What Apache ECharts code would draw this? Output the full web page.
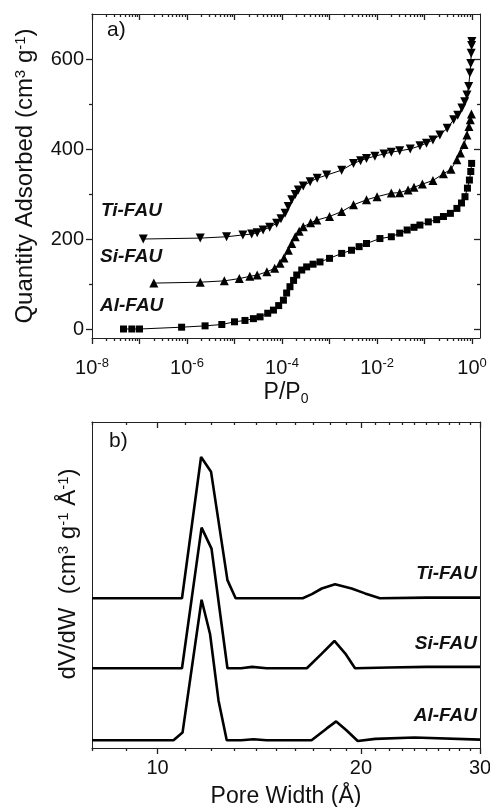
<!DOCTYPE html>
<html>
<head>
<meta charset="utf-8">
<script src="https://cdn.jsdelivr.net/npm/echarts@6/dist/echarts.min.js"></script>
<style>
  html, body { margin: 0; padding: 0; background: #fff; }
  #chart { width: 490px; height: 807px; }
</style>
</head>
<body>
<div id="chart"></div>
<script>
  // panel a) : isotherms, relative pressure P/P0 vs quantity adsorbed (cm3/g)
  var tiP = [1.2e-7, 1.9e-6, 6.8e-6, 1.5e-5, 2.3e-5, 3.0e-5, 4.0e-5, 5.5e-5, 7.7e-5, 9.5e-5,
    1.16e-4, 1.35e-4, 1.6e-4, 1.9e-4, 2.2e-4, 2.8e-4, 3.9e-4, 5.5e-4, 8.7e-4, 1.8e-3,
    3.2e-3, 4.5e-3, 6e-3, 9e-3, 1.4e-2, 2.0e-2, 3.0e-2, 5.0e-2, 8.0e-2, 0.11,
    0.15, 0.21, 0.3, 0.41, 0.5, 0.61, 0.7, 0.78, 0.85, 0.9, 0.94, 0.96, 0.98, 0.99];
  var tiQ = [200, 202, 205, 209, 211, 214, 220, 226, 235, 245,
    257, 272, 287, 299, 309, 318, 327, 335, 342, 353,
    368, 374, 379, 384, 389, 393, 396, 400, 407, 413,
    420, 431, 446, 465, 475, 491, 505, 520, 539, 569, 590, 613, 630, 639];

  var siP = [2.0e-7, 1.9e-6, 6.1e-6, 1.26e-5, 2.1e-5, 3.0e-5, 4.8e-5, 7.0e-5, 9.1e-5, 1.1e-4,
    1.36e-4, 1.6e-4, 1.9e-4, 2.3e-4, 2.8e-4, 4.0e-4, 5.4e-4, 1.0e-3, 1.8e-3, 3.2e-3,
    6e-3, 1.0e-2, 2.0e-2, 3.0e-2, 4.5e-2, 6.0e-2, 9.0e-2, 0.15, 0.25, 0.36,
    0.48, 0.57, 0.68, 0.78, 0.86, 0.92, 0.97];
  var siQ = [102, 104, 107, 112, 117, 120, 127, 135, 146, 158,
    175, 190, 205, 217, 227, 236, 242, 250, 261, 276,
    287, 294, 302, 303, 309, 315, 322, 330, 345, 355,
    376, 391, 410, 431, 450, 465, 478];

  var alP = [4.6e-8, 6.9e-8, 1.0e-7, 7.7e-7, 2.4e-6, 5.4e-6, 1.0e-5, 1.66e-5, 2.5e-5, 3.45e-5,
    5.0e-5, 6.6e-5, 8.5e-5, 1.07e-4, 1.25e-4, 1.47e-4, 1.75e-4, 2.04e-4, 2.6e-4, 3.3e-4,
    4.5e-4, 6.3e-4, 1.0e-3, 1.8e-3, 2.9e-3, 4.2e-3, 6e-3, 1.15e-2, 2.0e-2, 3.0e-2,
    4.3e-2, 6.0e-2, 8.0e-2, 0.12, 0.18, 0.25, 0.35, 0.48, 0.6, 0.71,
    0.8, 0.88, 0.94, 0.98];
  var alQ = [0, 0, 0, 4, 7, 10, 16, 19, 23, 27,
    35, 42, 52, 64, 80, 94, 108, 120, 131, 138,
    144, 149, 157, 168, 175, 183, 190, 201, 205, 213,
    220, 226, 231, 238, 243, 250, 257, 268, 280, 294,
    313, 331, 350, 368];

  // panel b) : pore size distribution, pore width (A) vs dV/dW (curves offset)
  var tiW = [8, 10.87, 11.6, 12.0, 12.69, 13.05, 16.4, 16.92, 17.5, 18.31, 19.37, 20.28, 21.33, 25, 30];
  var tiV = [0, 0, 2.02, 1.81, 0.26, 0, 0, 0.06, 0.14, 0.2, 0.14, 0.07, 0, 0.01, 0.01];
  var siW = [8, 10.87, 11.62, 12.02, 12.69, 13.3, 13.8, 14.5, 16.63, 17.5, 18.27, 18.96, 19.6, 22, 25, 30];
  var siV = [0, 0, 2.01, 1.71, 0, 0, 0.02, 0, 0, 0.21, 0.39, 0.21, 0, 0.01, 0.02, 0.02];
  var alW = [8, 10.56, 10.89, 11.62, 11.96, 12.31, 12.66, 13.3, 13.86, 14.5, 16.9, 17.8, 18.38, 19.05, 19.78, 21, 24, 30];
  var alV = [0, 0, 0.11, 2.01, 1.52, 0.57, 0, 0, 0.015, 0, 0, 0.17, 0.27, 0.14, -0.01, 0.02, 0.04, 0.01];
  var offsets = { al: 0.11, si: 1.14, ti: 2.14 };

  // axes
  var xRangeA = [1e-8, 1.47];
  var xMajorA = [-8, -7, -6, -5, -4, -3, -2, -1, 0];
  var xLabelsA = [-8, -6, -4, -2, 0];
  var yRangeA = [-20, 700];
  var yMajorA = [0, 200, 400, 600];
  var yMinorA = [100, 300, 500];
  var xRangeB = [8, 30];
  var xLabelsB = [10, 20, 30];
  var xMinorB = [8, 9, 11, 12, 13, 14, 15, 16, 17, 18, 19, 21, 22, 23, 24, 25, 26, 27, 28, 29];
  var yRangeB = [0, 4.66];

  var lg = Math.log10;
  var ink = '#111';
  var frame = '#222';
  var font = 'Liberation Sans, Arial, sans-serif';

  // log minor ticks 2..9 x 10^d
  var xMinorA = [];
  for (var d = -8; d < 0; d++) {
    for (var k = 2; k <= 9; k++) xMinorA.push(lg(k * Math.pow(10, d)));
  }

  function pairs(xs, ys, off) {
    return xs.map(function (x, i) { return [lg(x), ys[i] + (off || 0)]; });
  }

  function rich(size) {
    return {
      s: { fontSize: size, fontFamily: font, color: ink, verticalAlign: 'top', padding: [0, 0, 9, 0] },
      b: { fontSize: size, fontFamily: font, color: ink, padding: [12, 0, 0, 0] }
    };
  }

  function line(show) {
    return { show: show, onZero: false, lineStyle: { color: frame, width: 1 } };
  }
  function ticks(values, len, inside) {
    return { show: true, customValues: values, length: len, inside: inside, lineStyle: { color: frame, width: 1.3 } };
  }

  function xAxes(grid, range, major, minor, labels, fmt, name, nameGap, labelMargin) {
    function ax(extra) {
      return Object.assign({
        type: 'value', gridIndex: grid, min: lg(range[0]), max: lg(range[1]),
        splitLine: { show: false }, axisLabel: { show: false }
      }, extra);
    }
    return [
      ax({
        position: 'bottom', axisLine: line(true), axisTick: ticks(major, 6, false),
        name: name, nameLocation: 'middle', nameGap: nameGap,
        nameTextStyle: { fontFamily: font, fontSize: 23, color: ink, rich: rich(14) },
        axisLabel: { customValues: labels, formatter: fmt, margin: labelMargin, fontFamily: font, fontSize: 20, color: ink, rich: rich(13) }
      }),
      ax({ position: 'bottom', axisLine: line(false), axisTick: ticks(minor, 3, false) }),
      ax({ position: 'top', axisLine: line(true), axisTick: ticks(major, 6, true) }),
      ax({ position: 'top', axisLine: line(false), axisTick: ticks(minor, 3, true) })
    ];
  }

  var xAxisList = xAxes(0, xRangeA, xMajorA, xMinorA, xLabelsA,
    function (v) { return '10{s|' + Math.round(v) + '}'; }, 'P/P{b|0}', 42, 19)
    .concat(xAxes(1, xRangeB, xLabelsB.map(lg), xMinorB.map(lg), xLabelsB.map(lg),
      function (v) { return String(Math.round(Math.pow(10, v))); }, 'Pore Width (Å)', 37, 10));

  function ay(grid, range, position, extra) {
    return Object.assign({
      type: 'value', gridIndex: grid, position: position, min: range[0], max: range[1],
      splitLine: { show: false }, axisLine: line(true), axisTick: { show: false }, axisLabel: { show: false }
    }, extra);
  }
  var yAxisList = [
    ay(0, yRangeA, 'left', {
      name: 'Quantity Adsorbed (cm{s|3} g{s|-1})', nameLocation: 'middle', nameGap: 55,
      nameTextStyle: { fontFamily: font, fontSize: 24, color: ink, rich: rich(15) },
      axisTick: ticks(yMajorA, 6, false),
      axisLabel: { customValues: yMajorA, margin: 8, fontFamily: font, fontSize: 20, color: ink }
    }),
    ay(0, yRangeA, 'left', { axisLine: line(false), axisTick: ticks(yMinorA, 3, false) }),
    ay(0, yRangeA, 'right', { axisTick: ticks(yMajorA, 6, true) }),
    ay(0, yRangeA, 'right', { axisLine: line(false), axisTick: ticks(yMinorA, 3, true) }),
    ay(1, yRangeB, 'left', {
      name: 'dV/dW  (cm{s|3} g{s|-1} Å{s|-1})', nameLocation: 'middle', nameGap: 12,
      nameTextStyle: { fontFamily: font, fontSize: 24, color: ink, rich: rich(15), padding: [0, 0, 0, 22] }
    }),
    ay(1, yRangeB, 'right', {})
  ];

  function isotherm(name, sym, rot, size, xs, ys) {
    return {
      name: name, type: 'line', xAxisIndex: 0, yAxisIndex: 0,
      symbol: sym, symbolRotate: rot, symbolSize: size, showSymbol: true,
      itemStyle: { color: '#000' },
      lineStyle: { color: '#000', width: 1 },
      data: pairs(xs, ys), z: 3
    };
  }
  function psd(name, xs, ys, off) {
    return {
      name: name, type: 'line', xAxisIndex: 4, yAxisIndex: 4,
      symbol: 'none', lineStyle: { color: '#000', width: 2.6 },
      data: pairs(xs, ys, off)
    };
  }

  var tag = 'italic bold 19px ' + font;
  var chart = echarts.init(document.getElementById('chart'));
  chart.setOption({
    animation: false,
    grid: [
      { left: 92, top: 14, width: 388, height: 324, outerBoundsMode: 'none' },
      { left: 92, top: 422, width: 388, height: 326, outerBoundsMode: 'none' }
    ],
    xAxis: xAxisList,
    yAxis: yAxisList,
    series: [
      isotherm('Ti-FAU', 'triangle', 180, 9, tiP, tiQ),
      isotherm('Si-FAU', 'triangle', 0, 9, siP, siQ),
      isotherm('Al-FAU', 'rect', 0, 7, alP, alQ),
      psd('Ti-FAU', tiW, tiV, offsets.ti),
      psd('Si-FAU', siW, siV, offsets.si),
      psd('Al-FAU', alW, alV, offsets.al)
    ],
    graphic: [
      { type: 'text', left: 107, top: 20, style: { text: 'a)', fill: ink, font: '21px ' + font } },
      { type: 'text', left: 109, top: 431, style: { text: 'b)', fill: ink, font: '21px ' + font } },
      { type: 'text', left: 101, top: 201, style: { text: 'Ti-FAU', fill: ink, font: tag } },
      { type: 'text', left: 100, top: 247, style: { text: 'Si-FAU', fill: ink, font: tag } },
      { type: 'text', left: 100, top: 296, style: { text: 'Al-FAU', fill: ink, font: tag } },
      { type: 'text', right: 13, top: 564, style: { text: 'Ti-FAU', fill: ink, font: tag } },
      { type: 'text', right: 13, top: 634, style: { text: 'Si-FAU', fill: ink, font: tag } },
      { type: 'text', right: 13, top: 706, style: { text: 'Al-FAU', fill: ink, font: tag } }
    ]
  });
</script>
</body>
</html>
